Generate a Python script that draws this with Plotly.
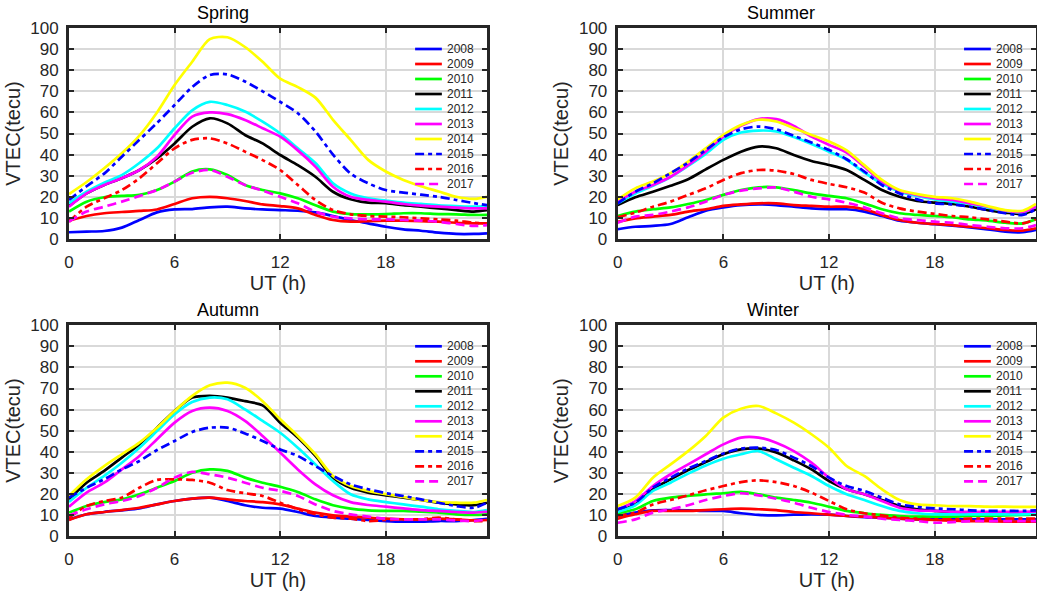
import plotly.graph_objects as go

# Universal time of each sample (hours)
hours = [0, 1, 2, 3, 4, 5, 6, 7, 8, 9, 10, 11, 12, 13, 14, 15, 16, 17, 18, 19, 20, 21, 22, 23, 23.75]

years = ["2008", "2009", "2010", "2011", "2012", "2013", "2014", "2015", "2016", "2017"]
colors = ["#0000ff", "#ff0000", "#00ff00", "#000000", "#00ffff", "#ff00ff", "#ffff00",
          "#0000ff", "#ff0000", "#ff00ff"]
dashes = ["solid"] * 7 + ["9px,4px,4px,4px", "9px,4px,4px,4px", "9px,5px"]

# Mean diurnal VTEC (TECU) per season and year
spring_2008 = [3.2, 3.5, 3.8, 5.4, 9, 12.6, 14, 14.2, 15, 15.3, 14.5, 14, 13.7, 13.4, 12.6, 10.9, 9, 7.4, 5.8, 4.6, 3.9, 3, 2.4, 2.4, 2.7]
spring_2009 = [8.7, 10.9, 12.2, 12.8, 13.3, 14, 16.6, 19.3, 20, 19.3, 18, 16.4, 15.6, 14.5, 11.4, 9, 8.2, 8.5, 8.7, 8.7, 8.5, 8.2, 7.7, 7.4, 7.4]
spring_2010 = [13, 17.7, 19.8, 20.4, 20.9, 23.2, 27.2, 32, 33, 30.3, 25.6, 23.2, 21.6, 19.3, 16, 13, 11.8, 11.7, 11.8, 12.2, 12.2, 11.8, 11.7, 11.4, 11.4]
spring_2011 = [15.6, 21.6, 25.6, 28.8, 32.7, 38.2, 45.3, 53.2, 57.2, 54.8, 49.3, 45.3, 39.8, 35, 29.5, 22.4, 18.8, 17.2, 17, 16, 15.3, 14.5, 13.7, 13, 13.7]
spring_2012 = [17, 22.4, 26.7, 30.3, 36, 43, 52.5, 61, 65, 63.5, 60.4, 55.6, 50, 43, 36, 26.4, 21.6, 19.3, 18.2, 17.2, 16.6, 16, 15.6, 15.3, 15.6]
spring_2013 = [15.3, 21.6, 25.6, 28.8, 32.7, 39, 49.3, 58, 60, 59.2, 56.4, 52.5, 48.5, 42, 34.3, 24.8, 20, 18.5, 17.7, 16.6, 15.8, 15.3, 14.9, 14.5, 14.5]
spring_2014 = [21.3, 27, 33.5, 40.6, 49, 60, 73, 84, 94.7, 95.6, 91, 84, 76, 72, 67, 56.5, 47, 37.5, 32, 28, 25, 22.5, 20, 19, 20]
spring_2015 = [18.5, 25, 31, 39, 47, 55, 63.5, 72, 77.7, 78, 74.6, 70, 65, 59.6, 51, 40, 31, 26.4, 23.2, 22, 21, 20, 18.5, 17, 16]
spring_2016 = [8.2, 15.3, 19.3, 23.2, 28.8, 35.9, 43, 47, 47.7, 45.3, 41.4, 37.4, 32.7, 25.6, 18.5, 13.7, 11.7, 10.9, 10.6, 10.3, 9.8, 9.3, 8.7, 7.7, 7.4]
spring_2017 = [8.2, 13, 15.3, 17.7, 20.4, 23.2, 27.2, 31.4, 32.7, 29.5, 25.6, 22.9, 20, 16.9, 13, 10.6, 9.8, 9.3, 9.3, 9, 8.7, 8.2, 7.1, 6.2, 6.6]

summer_2008 = [4.6, 5.8, 6.2, 7.1, 10.3, 13.4, 15, 16.1, 16.4, 16.1, 15.3, 14.5, 14.1, 14.1, 13, 10.9, 8.7, 7.7, 7, 6.3, 5.5, 4.6, 3.5, 3.2, 4.3]
summer_2009 = [8.2, 9.8, 10.6, 11.4, 13, 14.1, 15.7, 16.4, 16.9, 16.9, 16.1, 15.7, 15.3, 15.3, 14.1, 11.4, 9, 7.7, 7.1, 6.6, 5.8, 5.1, 4.3, 4, 5.1]
summer_2010 = [10.9, 13, 14.1, 15, 16.6, 18.5, 20.9, 23.2, 24.5, 24.5, 23.2, 21.6, 20.4, 19.3, 16.9, 14.1, 12.2, 11.4, 10.9, 10.3, 9.3, 8.7, 7.7, 7.4, 9.3]
summer_2011 = [16.1, 19.8, 22.4, 25.2, 28.3, 33, 37.5, 41.4, 43.8, 43, 39.8, 37, 35.1, 32.7, 28, 23.2, 20, 18, 17.2, 16.6, 15.3, 13.7, 12.5, 11.9, 14.1]
summer_2012 = [16.9, 21.6, 25.2, 29.3, 34.6, 40.3, 47, 50.5, 51.4, 51, 48.3, 45, 41.4, 37.5, 31.5, 26.1, 22.4, 20.4, 18.8, 17.7, 16.6, 14.9, 13.3, 12.7, 15.3]
summer_2013 = [17.7, 22.4, 25.6, 29.5, 35, 41.4, 48.5, 53.6, 56.8, 56.8, 53.6, 48.5, 44.6, 41, 34.3, 27.2, 22.9, 20.9, 19.3, 18.5, 16.9, 15.3, 13.4, 12.8, 15.3]
summer_2014 = [18.8, 24, 27.2, 31.2, 36.7, 43, 49.3, 54, 56.5, 55.7, 52.5, 49.3, 46.2, 42, 35, 28, 23.2, 21.3, 20, 19.3, 17.7, 15.6, 13.7, 13.4, 16.6]
summer_2015 = [16.9, 22.4, 26.4, 31.2, 36.2, 42.2, 48.2, 52, 53.3, 52, 48.9, 45.7, 42.2, 37.8, 32, 25.6, 21.6, 18.8, 16.9, 16.4, 15.3, 13.7, 12.2, 11.4, 14.1]
summer_2016 = [10.3, 12.5, 15.3, 17.7, 20.9, 24, 28, 31.2, 32.7, 32.4, 30.8, 28, 26.1, 24.5, 22, 17.2, 14.5, 13, 11.9, 10.9, 10.3, 9.3, 8.2, 7.4, 9.5]
summer_2017 = [7.7, 10.6, 11.4, 13, 15, 17.7, 20.9, 22.9, 24, 24.4, 22.4, 20, 18.8, 17.2, 15, 12.2, 9.8, 9, 8.2, 7.7, 6.6, 5.8, 5.1, 5.1, 6.6]

autumn_2008 = [7.9, 10.3, 11.4, 12.2, 13.1, 15, 16.6, 17.7, 18.2, 16.6, 14.6, 13.4, 13, 11.4, 9.5, 8.7, 8.2, 7.6, 7.1, 6.8, 6.8, 7.1, 7.1, 7.6, 8.2]
autumn_2009 = [7.6, 10.3, 11.4, 12.3, 13.4, 15, 16.6, 17.7, 18.2, 17.4, 16.6, 16.1, 15, 13, 11.1, 9.8, 9.2, 8.7, 8.2, 7.9, 7.9, 8.2, 7.9, 7.4, 7.6]
autumn_2010 = [11.1, 14.2, 16.1, 17.4, 19.8, 22.9, 26.1, 30, 31.6, 30.9, 27.7, 25.3, 23.4, 20.9, 17.4, 14.6, 13, 12.2, 11.9, 11.9, 11.5, 11.1, 10.3, 10, 10.3]
autumn_2011 = [17.4, 25.3, 30.9, 37.2, 43.5, 51.4, 59.3, 65.7, 66.5, 65.7, 64, 62, 53.8, 46.7, 38, 27.7, 22.9, 20.6, 19.3, 18.2, 17.1, 15.8, 15, 14.6, 15.8]
autumn_2012 = [16.1, 22.9, 28.5, 34.8, 41.9, 49.8, 57.8, 63.6, 65.7, 64.9, 60.1, 54.6, 49, 41.9, 34, 26.1, 19.8, 17.4, 16.1, 15, 13.9, 12.7, 11.9, 11.4, 12.3]
autumn_2013 = [13.9, 20.6, 25.3, 31.6, 38, 45.9, 53.8, 59.3, 60.9, 59.3, 54.6, 47.5, 39.6, 31.6, 24.5, 19.3, 16.1, 14.7, 13.9, 13.1, 12.3, 11.9, 11.4, 11.1, 11.5]
autumn_2014 = [19, 26.9, 33.2, 38.8, 44.3, 51.4, 59.3, 66.5, 71.5, 72.8, 70.4, 64, 55.4, 47.5, 38.8, 28.5, 23.7, 21.4, 19.8, 18.5, 17.1, 16.1, 15.8, 15.8, 17.1]
autumn_2015 = [18.2, 22.9, 26.9, 31.6, 35.6, 40.8, 45.1, 49.4, 51.4, 51.4, 48.7, 45.1, 41.1, 38, 33.2, 28.5, 24.5, 22.2, 20.3, 19, 17.4, 15.8, 14.2, 13.4, 15.8]
autumn_2016 = [8.7, 14.2, 16.6, 18.2, 22.9, 26.6, 26.9, 26.6, 25.3, 21.8, 20.3, 19, 15.8, 12.7, 10.3, 8.7, 8.2, 7.1, 7.6, 7.9, 7.9, 8.7, 7.9, 7.1, 7.1]
autumn_2017 = [9.8, 12.7, 15, 16.6, 19, 22.9, 27.7, 30.4, 29.3, 27.7, 25.3, 22.9, 21.4, 19, 15, 11.9, 10.3, 9.2, 8.2, 7.9, 7.9, 7.9, 7.4, 7.1, 7.9]

winter_2008 = [9.5, 11.1, 12.2, 12.3, 12.2, 11.9, 11.9, 10.8, 10, 9.8, 10.1, 10.3, 10.1, 9.5, 9, 8.7, 8.2, 7.9, 7.9, 7.9, 7.9, 7.9, 7.9, 7.9, 7.9]
winter_2009 = [8.2, 10.3, 11.9, 11.9, 11.9, 12.3, 12.7, 13, 12.7, 12.3, 11.4, 10.8, 10.1, 9.5, 9.2, 8.7, 8.2, 7.9, 7.6, 7.3, 7.1, 7, 6.8, 6.8, 6.8]
winter_2010 = [10.8, 12.7, 16.6, 18.2, 19, 19.8, 20.3, 20.9, 19.8, 18.2, 17.1, 15.8, 13.9, 11.9, 10.8, 10, 9.5, 9.2, 9.2, 9.2, 9.5, 9.5, 9.8, 10, 10.3]
winter_2011 = [11.9, 15, 22.2, 26.9, 31.3, 35.1, 38.8, 41.1, 41.5, 39.6, 35.9, 31.6, 26.1, 22.2, 19.8, 17.1, 14.2, 12.7, 11.9, 11.4, 11.1, 10.8, 10.8, 10.8, 11.1]
winter_2012 = [11.4, 14.6, 21.4, 25.3, 29.6, 33.5, 36.7, 38.8, 40.3, 36.4, 32.4, 28.5, 23.7, 19.8, 17.1, 14.2, 11.9, 10.8, 10.3, 10.3, 10.3, 10.3, 10.3, 10.3, 10.6]
winter_2013 = [12.7, 16.6, 23.7, 29.3, 34, 38.8, 43.5, 46.7, 46.7, 44.3, 40.3, 34.8, 27.7, 22.2, 19.8, 16.6, 13.4, 12.2, 11.9, 11.5, 11.5, 11.5, 11.5, 11.5, 11.7]
winter_2014 = [14.2, 18.2, 27.7, 34, 40.3, 47.5, 56.2, 60.4, 61.7, 58.2, 53.8, 48.3, 41.9, 33.2, 28.5, 22.2, 17.1, 15, 14.6, 14.2, 14.2, 13.9, 13.9, 13.8, 13.8]
winter_2015 = [12.7, 15.8, 22.9, 27.7, 32, 35.6, 39.2, 41.5, 41.9, 40.8, 37.2, 33.2, 27.7, 23.7, 21.4, 18.2, 15, 13.8, 13.1, 12.7, 12.2, 11.9, 11.9, 11.9, 12.2]
winter_2016 = [9.5, 11.1, 15, 17.1, 19.3, 21.7, 23.7, 25.6, 26.4, 25.6, 23.7, 20.6, 16.6, 12.7, 10.8, 9.8, 8.7, 8.2, 7.9, 7.9, 8.2, 8.2, 8.2, 8.2, 8.2]
winter_2017 = [6.3, 7.9, 11.1, 12.7, 14.6, 17.1, 19, 20.3, 19.3, 17.7, 15.8, 13.4, 11.4, 10, 9.2, 8.2, 7.6, 7.1, 6.3, 6.6, 7.1, 7.1, 7.1, 7.1, 7.1]

spring = [spring_2008, spring_2009, spring_2010, spring_2011, spring_2012,
          spring_2013, spring_2014, spring_2015, spring_2016, spring_2017]
summer = [summer_2008, summer_2009, summer_2010, summer_2011, summer_2012,
          summer_2013, summer_2014, summer_2015, summer_2016, summer_2017]
autumn = [autumn_2008, autumn_2009, autumn_2010, autumn_2011, autumn_2012,
          autumn_2013, autumn_2014, autumn_2015, autumn_2016, autumn_2017]
winter = [winter_2008, winter_2009, winter_2010, winter_2011, winter_2012,
          winter_2013, winter_2014, winter_2015, winter_2016, winter_2017]

seasons = ["Spring", "Summer", "Autumn", "Winter"]
season_data = [spring, summer, autumn, winter]

W, H = 1037, 599
FONT = "Liberation Sans, Arial, sans-serif"
INK = "#262626"

# panel boxes in pixels: (left, right, top, bottom)
boxes = [(69, 487, 28, 239), (617.7, 1036, 28, 239),
         (69, 487, 325.3, 536), (617.7, 1036, 325.3, 536)]
title_pos = [0.369, 0.390, 0.381, 0.371]

fig = go.Figure()
layout = dict(
    width=W, height=H, margin=dict(l=0, r=0, t=0, b=0, pad=0, autoexpand=False),
    paper_bgcolor="white", plot_bgcolor="white", showlegend=False,
    font=dict(family=FONT, color=INK),
)
annotations = []
shapes = []

for k, (name, series) in enumerate(zip(seasons, season_data)):
    sfx = "" if k == 0 else str(k + 1)
    left, right, top, bottom = boxes[k]
    layout["xaxis" + sfx] = dict(
        domain=[left / W, right / W], anchor="y" + sfx, automargin=False,
        range=[0, 23.75], tickvals=[0, 6, 12, 18],
        ticks="inside", ticklen=5, tickwidth=2, tickcolor=INK,
        showline=True, linewidth=3, linecolor=INK, mirror="ticks",
        showgrid=True, gridcolor="#d9d9d9", gridwidth=1.6, zeroline=False,
        tickfont=dict(size=17, family=FONT, color=INK),
        title=dict(text="UT (h)", font=dict(size=20, family=FONT, color=INK), standoff=4),
        ticklabelstandoff=6,
    )
    layout["yaxis" + sfx] = dict(
        domain=[1 - bottom / H, 1 - top / H], anchor="x" + sfx, automargin=False,
        range=[0, 100], tickvals=list(range(0, 101, 10)),
        ticks="inside", ticklen=5, tickwidth=2, tickcolor=INK,
        showline=True, linewidth=3, linecolor=INK, mirror="ticks",
        showgrid=True, gridcolor="#d9d9d9", gridwidth=1.6, zeroline=False,
        tickfont=dict(size=17, family=FONT, color=INK),
        title=dict(text="VTEC(tecu)", font=dict(size=20, family=FONT, color=INK), standoff=5),
        ticklabelstandoff=4,
    )
    for yr, vals, c, d in zip(years, series, colors, dashes):
        fig.add_trace(go.Scatter(
            x=hours, y=vals, mode="lines", name=yr,
            line=dict(color=c, width=2.7, dash=d, shape="spline", smoothing=0.8),
            xaxis="x" + sfx, yaxis="y" + sfx,
        ))

    # subplot title
    annotations.append(dict(
        text=name, xref="x" + sfx + " domain", yref="y" + sfx + " domain",
        x=title_pos[k], y=1, xanchor="center", yanchor="bottom", yshift=3,
        showarrow=False, font=dict(size=18, family=FONT, color="#000000"),
    ))

    # legend keys inside the upper-right corner
    hpx = bottom - top
    for i, (yr, c, d) in enumerate(zip(years, colors, dashes)):
        yd = 1 - (21 + 15 * i) / hpx
        shapes.append(dict(
            type="line", xref="x" + sfx + " domain", yref="y" + sfx + " domain",
            x0=0.828, x1=0.892, y0=yd, y1=yd,
            line=dict(color=c, width=2.7, dash=d),
        ))
        annotations.append(dict(
            text=yr, xref="x" + sfx + " domain", yref="y" + sfx + " domain",
            x=0.899, y=yd, xanchor="left", yanchor="middle",
            showarrow=False, font=dict(size=12, family=FONT, color=INK),
        ))

layout["annotations"] = annotations
layout["shapes"] = shapes
fig.update_layout(**layout)
fig.write_html("out.html")
